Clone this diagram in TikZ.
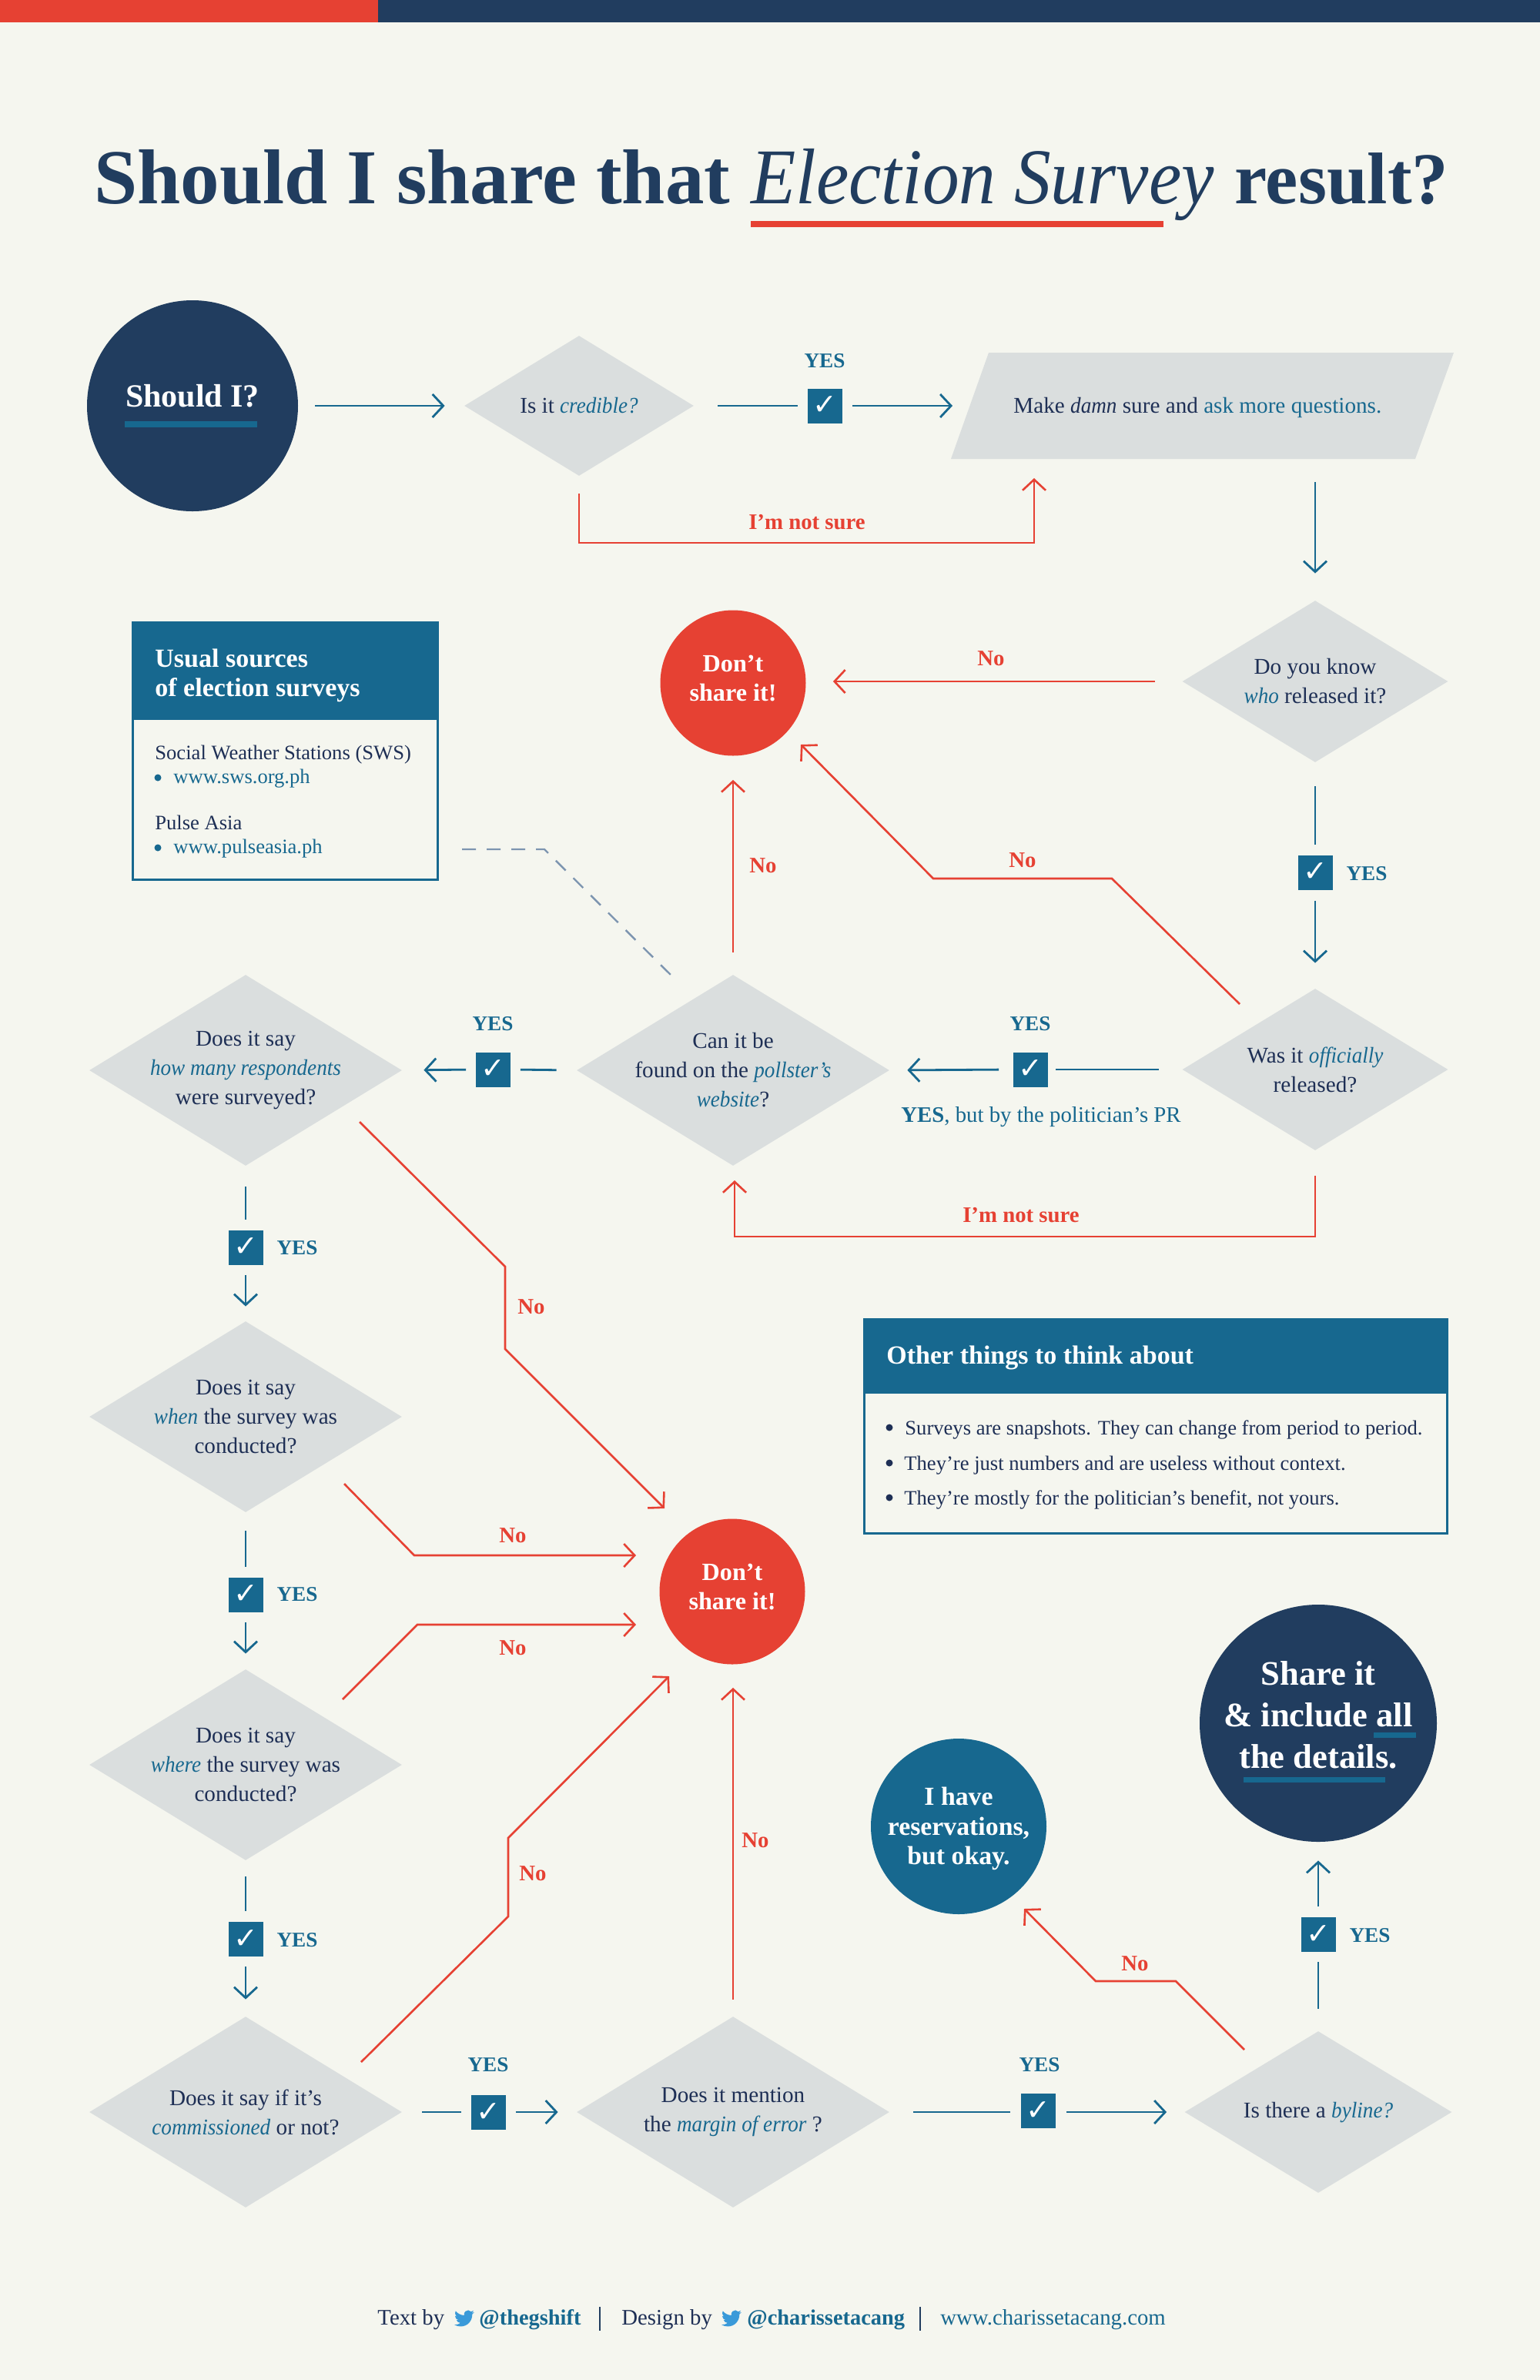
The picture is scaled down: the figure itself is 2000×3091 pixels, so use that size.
\documentclass[tikz,border=0pt]{standalone}
\usepackage{fontspec}
\usetikzlibrary{shapes.geometric,arrows.meta,calc}
\setmainfont[ItalicFeatures={FakeStretch=0.93}]{Liberation Serif}
\newfontfamily\dejavu{DejaVu Sans}
\definecolor{navy}{HTML}{213D5F}
\definecolor{inktxt}{HTML}{1E2F55}
\definecolor{teal}{HTML}{17688F}
\definecolor{redc}{HTML}{E64133}
\definecolor{grayc}{HTML}{DADEDE}
\definecolor{bgc}{HTML}{F5F6EF}
\definecolor{dashc}{HTML}{7D95B0}
\definecolor{birdc}{HTML}{3A9AD9}
\newcommand{\hl}[1]{\textcolor{teal}{\textit{#1}}}
\newcommand{\twbird}[1]{\fill[birdc,shift={(#1)},scale=1.08] (24,4.6) -- (21.13,5.35) .. controls (22.2,4.7) and (22.9,3.7) .. (23.29,2.62) .. controls (22.34,3.18) and (21.29,3.58) .. (20.16,3.8) .. controls (18.3,1.8) and (15.2,1.6) .. (13.2,3.6) .. controls (12,4.8) and (11.5,6.6) .. (11.78,8.28) .. controls (7.69,8.1) and (4.07,6.13) .. (1.64,3.16) -- (0.97,5.64) .. controls (0.97,7.35) and (1.84,8.85) .. (3.16,9.73) -- (0.93,9.12) .. controls (0.93,11.5) and (2.6,13.5) .. (4.88,13.95) -- (2.66,14.03) .. controls (3.3,15.9) and (5.1,17.4) .. (7.27,17.45) .. controls (5.6,18.8) and (3.5,19.6) .. (1.17,19.55) -- (0,19.49) .. controls (2.2,20.9) and (4.8,21.7) .. (7.56,21.7) .. controls (16.6,21.7) and (21.55,14.2) .. (21.55,7.7) -- (21.55,7.07) .. controls (22.5,6.4) and (23.4,5.5) .. (24,4.6) -- cycle;}
\tikzset{
  qbig/.style={diamond,fill=grayc,inner sep=0pt,shape aspect=1.64,minimum width=203pt,minimum height=124pt},
  qsmall/.style={diamond,fill=grayc,inner sep=0pt,shape aspect=1.64,minimum width=172.5pt,minimum height=105pt},
  qtext/.style={text=inktxt,align=center,font=\fontsize{14.6}{19}\selectfont,inner sep=0pt},
  chk/.style={rectangle,fill=teal,text=white,minimum size=22.5pt,inner sep=0pt,font=\dejavu\fontsize{19}{19}\selectfont},
  yeslab/.style={text=teal,font=\bfseries\fontsize{13.6}{18}\selectfont,inner sep=0pt},
  nolab/.style={text=redc,font=\bfseries\fontsize{14.4}{18}\selectfont,inner sep=0pt},
  bline/.style={draw=teal,line width=1.4pt},
  barrow/.style={bline,-{Straight Barb[length=7pt,width=15pt]}},
  rline/.style={draw=redc,line width=1.3pt},
  rarrow/.style={rline,-{Straight Barb[length=7pt,width=15pt]}},
  btxt/.style={text=inktxt,anchor=base west,inner sep=0pt,font=\fontsize{13.3}{18}\selectfont},
  btxtb/.style={btxt,text=teal},
  foot/.style={btxt,font=\fontsize{14.4}{18}\selectfont},
  footb/.style={btxt,text=teal,font=\bfseries\fontsize{14.2}{18}\selectfont},
  dot/.style={circle,fill=#1,minimum size=4.5pt,inner sep=0pt},
  roundtext/.style={text=white,align=center,inner sep=0pt,font=\bfseries\fontsize{16.1}{19}\selectfont},
  headtext/.style={anchor=base west,inner sep=0pt,text=white,font=\bfseries\fontsize{17}{19}\selectfont},
}
\begin{document}
\begin{tikzpicture}[x=0.5pt,y=-0.5pt]
\useasboundingbox (0,0) rectangle (2000,3091);
\fill[bgc] (0,0) rectangle (2000,3091);
\fill[navy] (491,0) rectangle (2000,29);
\fill[redc] (0,0) rectangle (491,29);
% title
\node[anchor=base west,inner sep=0pt,text=navy,font=\bfseries\fontsize{50.5}{60}\selectfont] (title1) at (122,264) {Should I share that};
\node[anchor=base west,inner sep=0pt,text=navy,font=\itshape\fontsize{51.3}{60}\selectfont] (title2) at (975,264) {Election Survey};
\node[anchor=base west,inner sep=0pt,text=navy,font=\bfseries\fontsize{47.5}{60}\selectfont] (title3) at (1603,264) {result?};
\fill[redc] (975,287) rectangle (1511,295);
% start
\node[circle,fill=navy,minimum size=137pt,inner sep=0pt] (start) at (250,527) {};
\node[anchor=base,inner sep=0pt,text=white,font=\bfseries\fontsize{21}{24}\selectfont] (startt) at (250,528) {Should I?};
\fill[teal] (162,547) rectangle (334,555);
% row 1
\node[diamond,fill=grayc,inner sep=0pt,shape aspect=1.64,minimum width=149pt,minimum height=91pt] (cred) at (752,527) {};
\node[qtext] (credt) at (752,527) {Is it \hl{credible?}};
\node[chk] (c1) at (1071,527) {✓};
\node[yeslab] (y1) at (1071,469) {YES};
\path[fill=grayc] (1284,458) -- (1888,458) -- (1838,596) -- (1235,596) -- cycle;
\coordinate (paraw) at (1237,527);
\coordinate (paras) at (1343,621);
\coordinate (paraout) at (1708,626);
\node[qtext,anchor=west] (parat) at (1316,529) {Make \textit{damn} sure and \textcolor{teal}{ask more questions.}};
\draw[barrow,shorten <=11pt,shorten >=12.5pt] (start.east) -- (cred.west);
\draw[bline,shorten <=15.5pt,shorten >=6pt] (cred.east) -- (c1.west);
\draw[barrow,shorten <=6.5pt] (c1.east) -- (paraw);
\draw[rarrow,shorten <=11.5pt] (cred.south) -- (752,705) -- (1343,705) -- (paras);
\node[nolab] (ns1) at (1048,678) {I’m not sure};
% know
\node[qsmall] (know) at (1708,885) {};
\node[qtext] (knowt) at (1708,885) {Do you know\\\hl{who} released it?};
\draw[barrow,shorten >=17.5pt] (paraout) -- (know.north);
\node[circle,fill=redc,minimum size=94.5pt,inner sep=0pt] (dont1) at (952,887) {};
\node[roundtext] (dont1t) at (952,881) {Don’t\\share it!};
\draw[rarrow,shorten <=17.5pt,shorten >=17.5pt] (know.west) -- (know.west -| dont1.east);
\node[nolab] (no1) at (1287,855) {No};
% official
\node[chk] (c2) at (1708,1133) {✓};
\node[yeslab] (y2) at (1775,1135) {YES};
\node[qsmall] (off) at (1708,1389) {};
\node[qtext] (offt) at (1708,1389) {Was it \hl{officially}\\released?};
\draw[bline,shorten <=15.5pt,shorten >=6.5pt] (know.south) -- (c2.north);
\draw[barrow,shorten <=7pt,shorten >=16.5pt] (c2.south) -- (off.north);
\coordinate (b1a) at (1444,1141);
\coordinate (b1b) at (1212,1141);
\coordinate (off1) at (1610,1304);
\coordinate (dont1a) at (1040,967);
\draw[rarrow] (off1) -- (b1a) -- (b1b) -- (dont1a);
\node[nolab] (no2) at (1328,1117) {No};
% can it
\node[qbig] (can) at (952,1390) {};
\node[qtext] (cant) at (952,1390) {Can it be\\found on the \hl{pollster’s}\\\hl{website}?};
\node[chk] (c3) at (1338,1389) {✓};
\node[yeslab] (y3) at (1338,1330) {YES};
\node[qtext,font=\fontsize{14.4}{18}\selectfont] (yp) at (1352,1451) {\textcolor{teal}{\textbf{YES}, but by the politician’s PR}};
\draw[bline,shorten <=15pt,shorten >=5pt] (off.west) -- (c3.east);
\draw[barrow,shorten <=9pt,shorten >=11.5pt] (c3.west) -- (can.east);
\coordinate (cans) at (954,1533);
\draw[rarrow,shorten <=16.5pt] (off.south) -- (1708,1606) -- (954,1606) -- (cans);
\node[nolab] (ns2) at (1326,1578) {I’m not sure};
\draw[rarrow,shorten <=14.5pt,shorten >=15.5pt] (can.north) -- (dont1.south);
\node[nolab] (no3) at (991,1124) {No};
\coordinate (dasha) at (707,1103);
\coordinate (dashb) at (874,1269);
\draw[dashc,line width=1.2pt,dash pattern=on 9pt off 7pt,shorten <=16pt] (568,1103) -- (dasha) -- (dashb);
% sources box
\node[draw=teal,line width=1.5pt,anchor=north west,minimum width=198pt,minimum height=167pt,inner sep=0pt] (src) at (171,807) {};
\fill[teal] (171,807) rectangle (567,935);
\node[headtext] (srch1) at (201,866) {Usual sources};
\node[headtext] (srch2) at (201,904) {of election surveys};
\node[btxt] (s1) at (201,986) {Social Weather Stations (SWS)};
\node[dot=teal] (s1d) at (205,1010) {};
\node[btxtb] (s2) at (225,1017) {www.sws.org.ph};
\node[btxt] (s3) at (201,1077) {Pulse Asia};
\node[dot=teal] (s3d) at (205,1101) {};
\node[btxtb] (s4) at (225,1108) {www.pulseasia.ph};
% left column
\node[qbig] (many) at (319,1390) {};
\node[qtext] (manyt) at (319,1390) {Does it say\\\hl{how many respondents}\\were surveyed?};
\node[chk] (c4) at (640,1389) {✓};
\node[yeslab] (y4) at (640,1330) {YES};
\draw[bline,shorten <=13pt,shorten >=6.5pt] (can.west) -- (c4.east);
\draw[barrow,shorten <=6pt,shorten >=14pt] (c4.west) -- (many.east);
\node[qbig] (when) at (319,1840) {};
\node[qtext] (whent) at (319,1840) {Does it say\\\hl{when} the survey was\\conducted?};
\node[chk] (c5) at (319,1620) {✓};
\node[yeslab] (y5) at (386,1621) {YES};
\draw[bline,shorten <=13.5pt,shorten >=6.5pt] (many.south) -- (c5.north);
\draw[barrow,shorten <=6.5pt,shorten >=9.5pt] (c5.south) -- (when.north);
\node[qbig] (where) at (319,2292) {};
\node[qtext] (wheret) at (319,2292) {Does it say\\\hl{where} the survey was\\conducted?};
\node[chk] (c6) at (319,2071) {✓};
\node[yeslab] (y6) at (386,2071) {YES};
\draw[bline,shorten <=12pt,shorten >=6.5pt] (when.south) -- (c6.north);
\draw[barrow,shorten <=6.5pt,shorten >=10pt] (c6.south) -- (where.north);
\node[qbig] (comm) at (319,2743) {};
\node[qtext] (commt) at (319,2743) {Does it say if it’s\\\hl{commissioned} or not?};
\node[chk] (c7) at (319,2518) {✓};
\node[yeslab] (y7) at (386,2520) {YES};
\draw[bline,shorten <=10.5pt,shorten >=6.5pt] (where.south) -- (c7.north);
\draw[barrow,shorten <=6.5pt,shorten >=11pt] (c7.south) -- (comm.north);
% central red
\node[circle,fill=redc,minimum size=94.5pt,inner sep=0pt] (dont2) at (951,2067) {};
\node[roundtext] (dont2t) at (951,2061) {Don’t\\share it!};
\coordinate (m1) at (467,1457);
\coordinate (m2) at (656,1645);
\coordinate (m3) at (656,1752);
\coordinate (m4) at (863,1959);
\draw[rarrow] (m1) -- (m2) -- (m3) -- (m4);
\node[nolab] (no4) at (690,1697) {No};
\coordinate (w1) at (447,1927);
\coordinate (w2) at (538,2020);
\coordinate (w3) at (826,2020);
\draw[rarrow] (w1) -- (w2) -- (w3);
\node[nolab] (no5) at (666,1994) {No};
\coordinate (x1) at (445,2207);
\coordinate (x2) at (542,2110);
\coordinate (x3) at (826,2110);
\draw[rarrow] (x1) -- (x2) -- (x3);
\node[nolab] (no6) at (666,2140) {No};
\coordinate (z1) at (469,2678);
\coordinate (z2) at (660,2489);
\coordinate (z3) at (660,2387);
\coordinate (z4) at (869,2177);
\draw[rarrow] (z1) -- (z2) -- (z3) -- (z4);
\node[nolab] (no7) at (692,2433) {No};
% bottom row
\node[qbig] (marg) at (952,2743) {};
\node[qtext] (margt) at (952,2743) {Does it mention\\the \hl{margin of error} ?};
\node[chk] (c8) at (634,2743) {✓};
\node[yeslab] (y8) at (634,2682) {YES};
\draw[bline,shorten <=13pt,shorten >=6pt] (comm.east) -- (c8.west);
\draw[barrow,shorten <=6.5pt,shorten >=12pt] (c8.east) -- (marg.west);
\draw[rarrow,shorten <=11pt,shorten >=15pt] (marg.north) -- (marg.north |- dont2.south);
\node[nolab] (no8) at (981,2390) {No};
\node[qsmall,minimum width=173.5pt] (by) at (1712,2743) {};
\node[qtext] (byt) at (1712,2743) {Is there a \hl{byline?}};
\node[chk] (c9) at (1348,2741) {✓};
\node[yeslab] (y9) at (1350,2682) {YES};
\draw[bline,shorten <=15.5pt,shorten >=6.5pt] (marg.east) -- (c9.west |- marg.east);
\draw[barrow,shorten <=7pt,shorten >=11.5pt] (c9.east |- by.west) -- (by.west);
\node[chk] (c10) at (1712,2512) {✓};
\node[yeslab] (y10) at (1779,2514) {YES};
\node[circle,fill=navy,minimum size=154pt,inner sep=0pt] (share) at (1712,2238) {};
\node[text=white,align=center,inner sep=0pt,font=\bfseries\fontsize{22.3}{27}\selectfont] (sharet) at (1712,2227) {Share it\\\& include all\\the details.};
\fill[teal] (1784,2250) rectangle (1839,2257);
\fill[teal] (1615,2308) rectangle (1799,2315);
\draw[bline,shorten <=14.5pt,shorten >=6.5pt] (by.north) -- (c10.south);
\draw[barrow,shorten <=6.5pt,shorten >=12pt] (c10.north) -- (share.south);
\node[circle,fill=teal,minimum size=114pt,inner sep=0pt] (res) at (1245,2372) {};
\node[roundtext,font=\bfseries\fontsize{16.9}{19.3}\selectfont] (rest) at (1245,2375) {I have\\reservations,\\but okay.};
\coordinate (r1) at (1616,2662);
\coordinate (r2) at (1527,2573);
\coordinate (r3) at (1423,2573);
\coordinate (r4) at (1330,2479);
\draw[rarrow] (r1) -- (r2) -- (r3) -- (r4);
\node[nolab] (no9) at (1474,2550) {No};
% other box
\node[draw=teal,line width=1.5pt,anchor=north west,minimum width=378.5pt,minimum height=139pt,inner sep=0pt] (oth) at (1121,1712) {};
\fill[teal] (1121,1712) rectangle (1878,1810);
\node[headtext] (othh) at (1151,1771) {Other things to think about};
\node[dot=inktxt] (od1) at (1155,1854) {};
\node[btxt] (o1) at (1175,1863) {Surveys are snapshots. They can change from period to period.};
\node[dot=inktxt] (od2) at (1155,1900) {};
\node[btxt] (o2) at (1174,1909) {They’re just numbers and are useless without context.};
\node[dot=inktxt] (od3) at (1155,1945) {};
\node[btxt] (o3) at (1174,1954) {They’re mostly for the politician’s benefit, not yours.};
% footer
\node[foot] (f1) at (490,3019) {Text by};
\twbird{590,2998}
\node[footb] (f2) at (622,3019) {@thegshift};
\draw[navy,line width=0.7pt] (779,2996) -- (779,3027);
\node[foot] (f3) at (807,3019) {Design by};
\twbird{937,2998}
\node[footb] (f4) at (970,3019) {@charissetacang};
\draw[navy,line width=0.7pt] (1195,2996) -- (1195,3027);
\node[foot,text=teal] (f5) at (1221,3019) {www.charissetacang.com};
\end{tikzpicture}
\end{document}
